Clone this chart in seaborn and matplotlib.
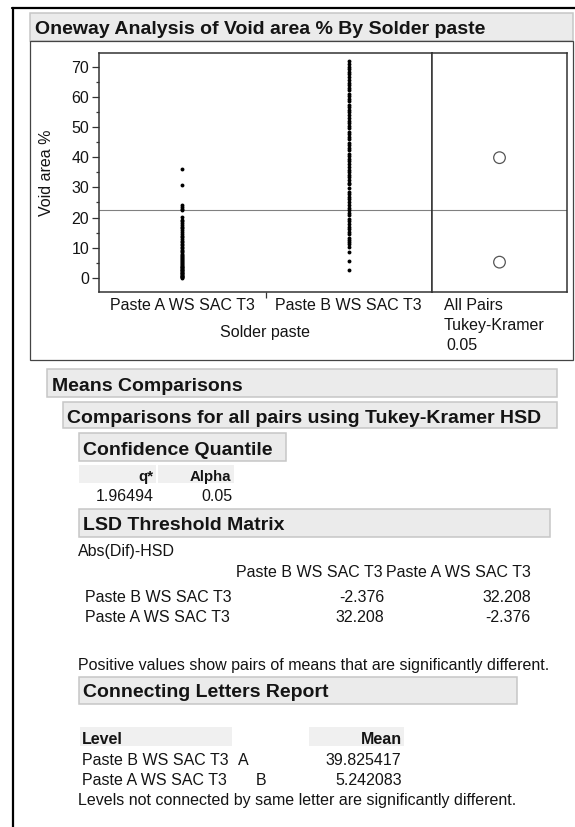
import matplotlib
matplotlib.use("Agg")
import matplotlib.pyplot as plt
import numpy as np
import pandas as pd
import seaborn as sns

# --- data ---
levels = ["Paste A WS SAC T3", "Paste B WS SAC T3"]
void_a = [0.0, 0.2, 0.4, 0.6, 0.8, 1.0, 1.2, 1.5, 1.7, 2.0, 2.2, 2.5, 2.7, 3.0,
          3.2, 3.5, 3.8, 4.0, 4.3, 4.6, 4.9, 5.2, 5.5, 5.8, 6.2, 6.5, 6.9, 7.3,
          7.7, 8.1, 8.5, 9.0, 9.4, 9.9, 10.4, 10.9, 11.4, 11.9, 12.4, 12.9, 13.5,
          14.0, 14.6, 15.2, 15.8, 16.4, 17.0, 17.6, 18.2, 18.7, 19.1, 20.2, 22.5,
          23.0, 23.6, 24.2, 30.8, 36.2]
void_b = [2.5, 5.6, 8.6, 10.3, 11.1, 11.8, 12.7, 13.4, 14.4, 15.1, 16.2, 17.0,
          17.8, 18.9, 19.6, 20.7, 21.4, 22.5, 23.2, 24.3, 25.0, 26.1, 26.8, 27.9,
          28.6, 29.9, 31.0, 31.6, 32.5, 33.3, 34.2, 35.1, 35.8, 36.9, 37.6, 38.7,
          39.4, 40.5, 41.2, 42.3, 43.0, 44.1, 44.8, 45.9, 46.6, 47.7, 48.4, 49.5,
          50.2, 51.3, 52.0, 53.1, 53.8, 54.9, 55.6, 56.7, 57.4, 58.5, 59.2, 60.3,
          61.0, 62.1, 62.8, 63.9, 64.6, 65.7, 66.4, 67.5, 68.2, 69.3, 70.0, 70.9,
          71.7]
mean_a = 5.242083
mean_b = 39.825417
q_star = "1.96494"
alpha = "0.05"
lsd_order = ["Paste B WS SAC T3", "Paste A WS SAC T3"]
lsd_values = [["-2.376", "32.208"], ["32.208", "-2.376"]]
letters = ["A", "B"]
means_txt = ["39.825417", "5.242083"]

df = pd.DataFrame({
    "Solder paste": [levels[0]] * len(void_a) + [levels[1]] * len(void_b),
    "Void area %": void_a + void_b,
})
grand_mean = (mean_a + mean_b) / 2

sns.set_theme(style="white")
plt.rcParams["font.family"] = ["Liberation Sans", "DejaVu Sans"]
TXT = "#141414"
FS = 11.5
HFS = 14

W, H = 575, 827
fig = plt.figure(figsize=(W / 100, H / 100), dpi=100)

# background layer in pixel coordinates
bg = fig.add_axes([0, 0, 1, 1], zorder=0)
bg.set_xlim(0, W)
bg.set_ylim(H, 0)
bg.axis("off")


def box(x0, x1, y0, y1, fc="#ebebeb", ec="#c6c6c6", lw=1.1):
    bg.add_patch(plt.Rectangle((x0, y0), x1 - x0, y1 - y0, fc=fc, ec=ec, lw=lw))


def txt(x, y, s, ha="left", bold=False, size=FS):
    bg.text(x, y, s, ha=ha, va="baseline", color=TXT, fontsize=size,
            fontweight="bold" if bold else "normal")


# outer frame
bg.plot([12.5, 12.5], [H, 8], color="black", lw=1.6)
bg.plot([12, W], [8, 8], color="black", lw=1.6)

box(30, 573, 13, 41)
txt(35, 33.5, "Oneway Analysis of Void area % By Solder paste", bold=True, size=HFS)
box(30, 573, 41, 360, fc="white", ec="#444444", lw=0.9)

# --- plot panels ---
top, bot = 52.5, 292
main_ax = fig.add_axes([99 / W, 1 - bot / H, 333 / W, (bot - top) / H], zorder=2)
side_ax = fig.add_axes([432 / W, 1 - bot / H, 135 / W, (bot - top) / H], zorder=2)

sns.stripplot(data=df, x="Solder paste", y="Void area %", order=levels,
              jitter=False, color="black", size=2.8, linewidth=0, ax=main_ax)
ylim = (-4.64, 74.64)
for a in (main_ax, side_ax):
    a.set_ylim(*ylim)
    a.axhline(grand_mean, color="#808080", lw=0.8, zorder=1)
    for sp in a.spines.values():
        sp.set_visible(True)
        sp.set_color("#333333")
        sp.set_linewidth(1.1)

main_ax.set_xlim(-0.5, 1.5)
main_ax.set_yticks(range(0, 80, 10))
main_ax.set_yticks([5, 15, 25, 35, 45, 55, 65], minor=True)
main_ax.set_xticks([0.5], minor=True)
main_ax.tick_params(axis="y", which="major", left=True, length=4.7, width=0.9,
                    color="#333333", pad=2.3, labelsize=FS, labelcolor=TXT)
main_ax.tick_params(axis="y", which="minor", left=True, length=2.5, width=0.9,
                    color="#333333")
main_ax.tick_params(axis="x", which="major", length=0, pad=4.3, labelsize=FS,
                    labelcolor=TXT)
main_ax.tick_params(axis="x", which="minor", bottom=True, length=4.5, width=0.9,
                    color="#333333")
main_ax.set_xlabel("Solder paste", fontsize=FS, color=TXT)
main_ax.set_ylabel("Void area %", fontsize=FS, color=TXT)
main_ax.xaxis.set_label_coords(0.5, -(325 - bot) / (bot - top))
main_ax.yaxis.set_label_coords((54 - 99) / 333, 0.5)

sns.scatterplot(x=[0, 0], y=[mean_b, mean_a], marker="o", s=70,
                facecolor="none", edgecolor="#555555", linewidth=0.9, ax=side_ax)
side_ax.set_xlim(-1, 1)
side_ax.set_xticks([])
side_ax.set_yticks([])
side_ax.set_xlabel("")
side_ax.set_ylabel("")

txt(444, 310, "All Pairs")
txt(444, 330, "Tukey-Kramer")
txt(446, 350, alpha)

# --- report tables ---
box(46.7, 557, 369.3, 396.7)
txt(51.5, 390.7, "Means Comparisons", bold=True, size=HFS)
box(62.7, 557, 401.7, 428.3)
txt(67, 423.3, "Comparisons for all pairs using Tukey-Kramer HSD", bold=True, size=HFS)
box(79, 286, 433.3, 460.7)
txt(83.3, 455, "Confidence Quantile", bold=True, size=HFS)

box(79.3, 156, 465, 482.7, fc="#f0f0f0", ec="none")
box(158.3, 234.3, 465, 482.7, fc="#f0f0f0", ec="none")
txt(153.3, 480.7, "q*", ha="right", bold=True, size=10.8)
txt(231, 480.7, "Alpha", ha="right", bold=True, size=10.8)
txt(153.3, 500.7, q_star, ha="right")
txt(232.3, 500.7, alpha, ha="right")

box(79, 550, 509, 536.7)
txt(83.3, 530, "LSD Threshold Matrix", bold=True, size=HFS)
txt(78, 556, "Abs(Dif)-HSD")
txt(383, 576.7, lsd_order[0], ha="right")
txt(530.5, 576.7, lsd_order[1], ha="right")
for i, (lab, row) in enumerate(zip(lsd_order, lsd_values)):
    y = 601.7 + 20 * i
    txt(85, y, lab)
    txt(384.5, y, row[0], ha="right")
    txt(531, y, row[1], ha="right")
txt(78.5, 670, "Positive values show pairs of means that are significantly different.")

box(78.7, 517, 677.3, 704)
txt(83.3, 697.3, "Connecting Letters Report", bold=True, size=HFS)
box(79.7, 231.6, 726.7, 745.7, fc="#f0f0f0", ec="none")
box(309, 403.6, 726.7, 745.7, fc="#f0f0f0", ec="none")
txt(82, 744.3, "Level", bold=True)
txt(401.5, 744.3, "Mean", ha="right", bold=True)
for i, (lab, let, m) in enumerate(zip(lsd_order, letters, means_txt)):
    y = 764.7 + 20 * i
    txt(82, y, lab)
    txt(238 + 18 * i, y, let)
    txt(401.5, y, m, ha="right")
txt(78.5, 805, "Levels not connected by same letter are significantly different.")

fig.savefig("out.png", dpi=100)
